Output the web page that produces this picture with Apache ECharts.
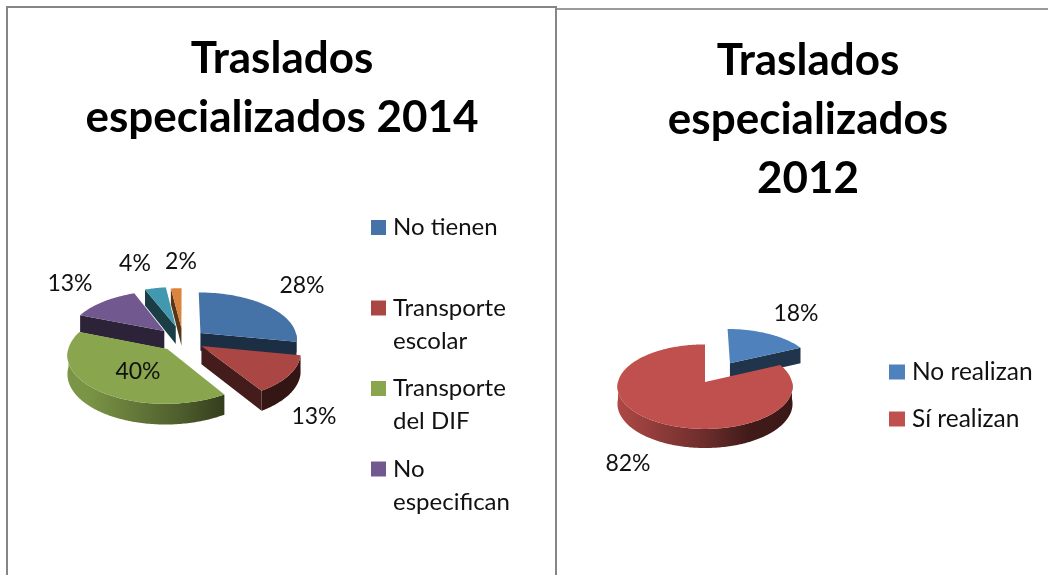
<!DOCTYPE html>
<html><head><meta charset="utf-8">
<style>html,body{margin:0;padding:0;background:#fff}#c{width:1048px;height:575px}</style>
<script src="https://cdn.jsdelivr.net/npm/echarts@6/dist/echarts.min.js"></script>
</head><body><div id="c"></div>
<script>
// ---- data ----
const categories2014 = ['No tienen','Transporte escolar','Transporte del DIF','No especifican','Otros','Otros medios'];
const values2014 = [28,13,40,13,4,2];
const categories2012 = ['No realizan','Sí realizan'];
const values2012 = [18,82];
const legendItems2014 = ['No tienen','Transporte escolar','Transporte del DIF','No especifican'];
const title2014 = 'Traslados\nespecializados 2014';
const title2012 = 'Traslados\nespecializados\n2012';

// ---- layout & style ----
const FONT = 'Lato';
const colors2014 = ['#4572A7','#AA4643','#89A54E','#71588F','#4198AF','#DB843D'];
const colors2012 = ['#4F81BD','#C0504D'];
const pie2014 = {cx:183, cy:340, R:97, depth:18, explode:[23,22,24,27,30,26],
  labelAt:[[302,286],[314,417],[138,372],[70,284],[135,264],[181,262]]};
const pie2012 = {cx:705, cy:382, R:87, depth:17, explode:[49,0],
  labelAt:[[796,314],[628,464]]};
const K = 0.48, P = 0.11;

function shade(hex,f){
  const n=parseInt(hex.slice(1),16);
  const c=[n>>16&255,n>>8&255,n&255].map(v=>Math.round(v*f));
  return 'rgb('+c.join(',')+')';
}
function buildSeries(pie,cats,vals,cols){
  const total=vals.reduce((a,b)=>a+b,0);
  let acc=0;
  const slices=vals.map((v,i)=>{
    const a0=acc/total*2*Math.PI; acc+=v; const a1=acc/total*2*Math.PI;
    const m=(a0+a1)/2;
    return {i,v,a0,a1,ax:pie.explode[i]*Math.sin(m),ay:pie.explode[i]*Math.cos(m)};
  });
  const proj=(X,Y,Z)=>{
    const s=1/(1+P*Y/pie.R);
    return [pie.cx+X*s, pie.cy-Y*K*s+Z*s];
  };
  slices.sort((p,q)=>q.ay-p.ay);
  return slices.map(sl=>({
    type:'custom', name:cats[sl.i], coordinateSystem:'none', silent:true,
    animation:false, itemStyle:{color:cols[sl.i]}, data:[[sl.v]],
    renderItem:function(params,api){
      const base=cols[sl.i], ch=[];
      const arc=(t)=>[sl.ax+pie.R*Math.sin(t), sl.ay+pie.R*Math.cos(t)];
      const step=Math.PI/180;
      const n=Math.max(2,Math.ceil((sl.a1-sl.a0)/step));
      const ts=[];for(let j=0;j<=n;j++)ts.push(sl.a0+(sl.a1-sl.a0)*j/n);
      const inner=shade(base,0.4);
      const radial=(t)=>{
        const p=arc(t);
        ch.push({type:'polygon',shape:{points:[proj(sl.ax,sl.ay,0),proj(p[0],p[1],0),proj(p[0],p[1],pie.depth),proj(sl.ax,sl.ay,pie.depth)]},style:{fill:inner}});
      };
      if(Math.sin(sl.a0)<-1e-6) radial(sl.a0);
      if(Math.sin(sl.a1)>1e-6) radial(sl.a1);
      const front=ts.filter(t=>Math.cos(t)<0.02);
      if(front.length>1){
        const top=front.map(t=>{const p=arc(t);return proj(p[0],p[1],0);});
        const bot=front.map(t=>{const p=arc(t);return proj(p[0],p[1],pie.depth);}).reverse();
        ch.push({type:'polygon',shape:{points:top.concat(bot)},style:{fill:{
          type:'linear',global:true,x:pie.cx-pie.R,y:0,x2:pie.cx+pie.R,y2:0,
          colorStops:[{offset:0,color:shade(base,0.9)},{offset:0.5,color:shade(base,0.56)},{offset:0.75,color:shade(base,0.34)},{offset:1,color:shade(base,0.3)}]}}});
      }
      const face=[proj(sl.ax,sl.ay,0)].concat(ts.map(t=>{const p=arc(t);return proj(p[0],p[1],0);}));
      ch.push({type:'polygon',shape:{points:face},style:{fill:base}});
      const at=pie.labelAt[sl.i];
      ch.push({type:'text',z2:10,style:{text:api.value(0)+'%',x:at[0],y:at[1],align:'center',verticalAlign:'middle',fill:'#111',font:'23px '+FONT}});
      return {type:'group',children:ch};
    }
  }));
}
// Three equal rows per legend entry, so the marker lines up with the first text row.
const BLANK='{a|\u00a0}';
const wrapLegend=n=>{
  if(n==='No tienen') return [BLANK,'{a|'+n+'}',BLANK].join('\n');
  const cut=n.indexOf(' ');
  return [BLANK,'{a|'+n.slice(0,cut)+'}','{a|'+n.slice(cut+1)+'}'].join('\n');
};
const LH=33;
const chart=echarts.init(document.getElementById('c'),null,{renderer:'canvas'});
const GRAY='#868686';
chart.setOption({
  animation:false, backgroundColor:'#fff',
  title:[
    {text:title2014,left:277,top:24,textAlign:'center',textStyle:{fontFamily:FONT,fontWeight:'bold',fontSize:44,lineHeight:59,color:'#000'}},
    {text:title2012,left:803,top:26,textAlign:'center',textStyle:{fontFamily:FONT,fontWeight:'bold',fontSize:44,lineHeight:59,color:'#000'}}
  ],
  legend:[
    {orient:'vertical',left:366,top:177.5,itemWidth:15,itemHeight:15,itemGap:-9.5,selectedMode:false,icon:'rect',
     formatter:wrapLegend,
     data:legendItems2014,
     textStyle:{rich:{a:{fontFamily:FONT,fontSize:24,lineHeight:LH,color:'#111',padding:[0,0,0,2]}}}},
    {orient:'vertical',left:884,top:350.5,itemWidth:16,itemHeight:15,itemGap:14,selectedMode:false,icon:'rect',
     data:categories2012,
     textStyle:{fontFamily:FONT,fontSize:24.5,lineHeight:LH,color:'#111',padding:[0,0,0,2]}}
  ],
  graphic:[
    {type:'polyline',silent:true,shape:{points:[[7,575],[7,7],[556,7],[556,575]]},style:{stroke:GRAY,lineWidth:2,fill:null}},
    {type:'line',silent:true,shape:{x1:557,y1:9,x2:1048,y2:9},style:{stroke:'#9a9a9a',lineWidth:2}}
  ],
  series:buildSeries(pie2014,categories2014,values2014,colors2014)
    .concat(buildSeries(pie2012,categories2012,values2012,colors2012))
});
</script></body></html>
